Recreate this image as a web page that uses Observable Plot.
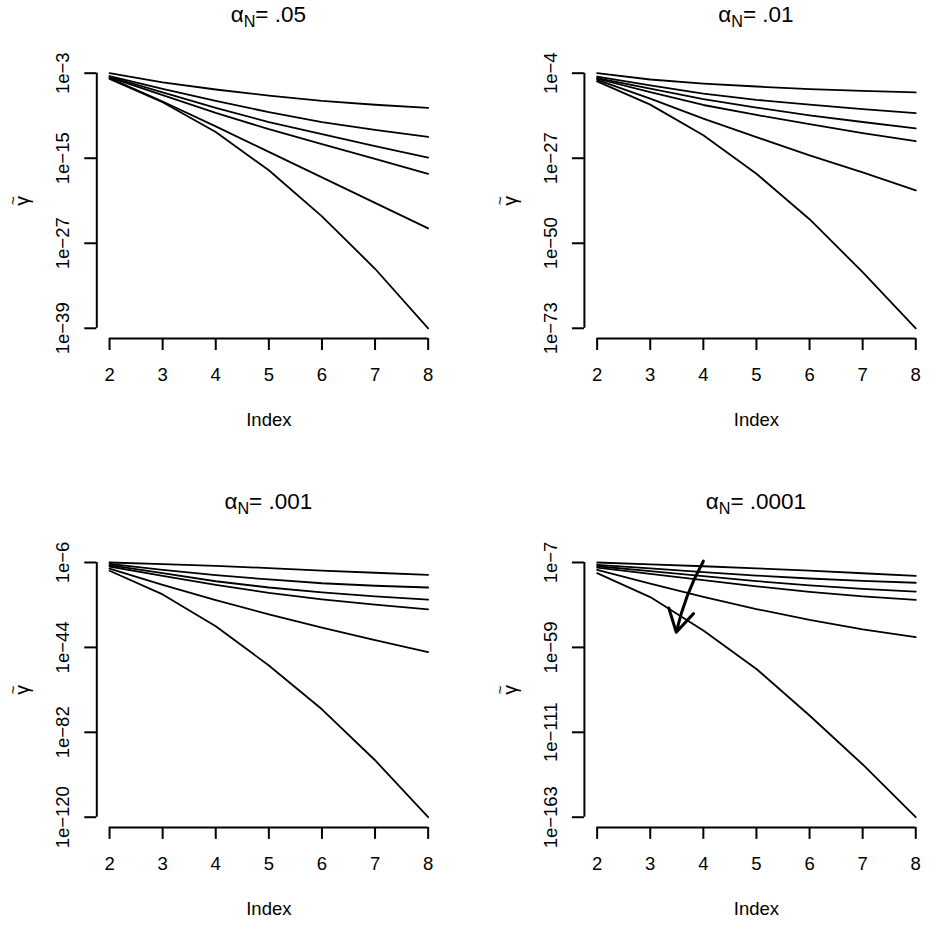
<!DOCTYPE html>
<html><head><meta charset="utf-8">
<script src="https://cdn.jsdelivr.net/npm/d3@7"></script>
<script src="https://cdn.jsdelivr.net/npm/@observablehq/plot@0.6"></script>
<style>
body{margin:0;background:#fff;}
#root{position:relative;width:941px;height:931px;overflow:hidden;font-family:"Liberation Sans",Arial,sans-serif;color:#000;}
.panel{position:absolute;}
.title{position:absolute;text-align:center;font-size:22.5px;line-height:22px;white-space:nowrap;color:#000;}
.title sub{font-size:0.72em;vertical-align:-0.3em;line-height:0;}
</style></head><body><div id="root"></div>
<script>
// x positions (Index)
const index = [2, 3, 4, 5, 6, 7, 8];
// panel titles: alpha_N values
const alphaLabels = [".05", ".01", ".001", ".0001"];
// y tick exponents (log10 of gamma) per panel
const ticks05 = [-3, -15, -27, -39];
const ticks01 = [-4, -27, -50, -73];
const ticks001 = [-6, -44, -82, -120];
const ticks0001 = [-7, -59, -111, -163];
// log10(gamma~) for six curves per panel, at Index 2..8
const gamma05 = [
  [-3.0, -4.3, -5.3, -6.15, -6.9, -7.45, -7.9],
  [-3.4, -5.2, -6.9, -8.5, -9.9, -11.0, -12.0],
  [-3.5, -5.7, -7.9, -9.9, -11.6, -13.3, -14.9],
  [-3.6, -6.1, -8.6, -10.9, -13.0, -15.1, -17.2],
  [-3.7, -7.0, -10.5, -14.1, -17.7, -21.3, -24.9],
  [-3.8, -7.1, -11.3, -16.7, -23.2, -30.6, -39.0]
];
const gamma01 = [
  [-4.0, -5.7, -6.8, -7.6, -8.3, -8.8, -9.2],
  [-4.9, -7.3, -9.5, -11.2, -12.5, -13.7, -14.8],
  [-5.3, -8.2, -11.0, -13.3, -15.4, -17.2, -18.9],
  [-5.5, -9.1, -12.6, -15.3, -17.8, -20.2, -22.4],
  [-5.8, -10.9, -16.3, -21.3, -26.2, -30.8, -35.7],
  [-6.2, -12.5, -20.8, -31.2, -43.5, -57.8, -73.0]
];
const gamma001 = [
  [-6.0, -6.7, -7.5, -8.5, -9.6, -10.6, -11.5],
  [-6.6, -9.3, -11.7, -13.6, -15.3, -16.4, -17.2],
  [-7.2, -10.8, -14.4, -17.2, -19.4, -21.2, -22.6],
  [-7.8, -12.0, -16.0, -19.6, -22.5, -24.9, -27.0],
  [-8.7, -16.0, -22.8, -29.2, -35.2, -40.8, -46.1],
  [-9.7, -20.3, -34.5, -52.1, -71.7, -94.5, -120.0]
];
const gamma0001 = [
  [-7.0, -8.1, -9.3, -10.6, -12.0, -13.6, -15.2],
  [-8.4, -10.6, -12.9, -15.0, -16.8, -18.2, -19.4],
  [-9.3, -12.3, -15.4, -18.4, -21.0, -23.1, -24.8],
  [-10.2, -14.0, -17.8, -21.6, -25.0, -27.8, -29.9],
  [-11.5, -20.0, -28.0, -35.5, -42.2, -48.0, -52.7],
  [-13.5, -28.2, -48.6, -72.2, -100.7, -130.7, -163.0]
];
// annotation arrow in last panel: [Index, log10 gamma]
const arrowFrom = [4.0, -6.2];
const arrowTo = [3.49, -49.7];

const root = document.getElementById("root");
const FS = 18.5;

function makePanel(cfg) {
  const {series, ticks, title, left, top, width, height, mL, mR, mT, mB, titleBaseline, arrow} = cfg;
  const hi = Math.max(...ticks), lo = Math.min(...ticks);
  const ext = (hi - lo) * 0.04;
  const xExt = (index[index.length - 1] - index[0]) * 0.04;
  const xmin = index[0] - xExt, xmax = index[index.length - 1] + xExt;
  const data = series.flatMap((vals, k) => vals.map((v, i) => ({x: index[i], y: Math.pow(10, v), s: k})));
  const tickVals = ticks.map(t => Math.pow(10, t));
  const marks = [
    Plot.lineY(data, {x: "x", y: "y", z: "s", stroke: "#000", strokeWidth: 1.8}),
    Plot.ruleY([Math.pow(10, lo - ext)], {x1: () => index[0], x2: () => index[index.length - 1], stroke: "#000", strokeWidth: 2}),
    Plot.ruleX([xmin], {y1: () => tickVals[0], y2: () => tickVals[tickVals.length - 1], stroke: "#000", strokeWidth: 2}),
    Plot.axisX(index, {tickSize: 12, tickPadding: 17, fontSize: FS, tickFormat: d => String(d), strokeWidth: 2, label: null}),
    Plot.axisY(tickVals, {tickSize: 12, tickFormat: () => "", strokeWidth: 2, label: null}),
    Plot.text(ticks, {y: d => Math.pow(10, d), frameAnchor: "left", text: d => "1e\u2212" + (-d), rotate: -90, dx: -33.6, fontSize: FS, textAnchor: "middle", lineAnchor: "middle"}),
    Plot.text(["\u03B3"], {frameAnchor: "left", dx: -74, rotate: -90, fontSize: FS + 1, textAnchor: "middle", lineAnchor: "middle"}),
    Plot.text(["~"], {frameAnchor: "left", dx: -84, rotate: -90, fontSize: FS - 3, textAnchor: "middle", lineAnchor: "middle"}),
    Plot.text(["Index"], {frameAnchor: "bottom", dy: 82, fontSize: FS, textAnchor: "middle", lineAnchor: "middle"})
  ];
  if (arrow) {
    marks.push(Plot.arrow([arrow], {
      x1: d => d.from[0], y1: d => Math.pow(10, d.from[1]),
      x2: d => d.to[0], y2: d => Math.pow(10, d.to[1]),
      bend: -8, stroke: "#000", strokeWidth: 3, headLength: 16
    }));
  }
  const svg = Plot.plot({
    width, height,
    marginLeft: mL, marginRight: mR, marginTop: mT, marginBottom: mB,
    x: {domain: [xmin, xmax]},
    y: {type: "log", domain: [Math.pow(10, lo - ext), Math.pow(10, hi + ext)]},
    style: {fontFamily: "'Liberation Sans', Arial, sans-serif", fontSize: FS + "px", background: "transparent", color: "#000", overflow: "visible"},
    marks
  });
  const wrap = document.createElement("div");
  wrap.className = "panel";
  wrap.style.left = left + "px";
  wrap.style.top = top + "px";
  wrap.appendChild(svg);
  root.appendChild(wrap);

  const t = document.createElement("div");
  t.className = "title";
  t.innerHTML = "\u03B1<sub>N</sub>= " + title;
  t.style.left = (left + mL) + "px";
  t.style.width = (width - mL - mR) + "px";
  t.style.top = (titleBaseline - 18.6) + "px";
  root.appendChild(t);
}

makePanel({series: gamma05, ticks: ticks05, title: alphaLabels[0], left: 0, top: 0, width: 470, height: 465, mL: 96.3, mR: 29.6, mT: 62.5, mB: 127, titleBaseline: 22.7});
makePanel({series: gamma01, ticks: ticks01, title: alphaLabels[1], left: 470, top: 0, width: 471, height: 465, mL: 113.9, mR: 13, mT: 62.5, mB: 127, titleBaseline: 22.7});
makePanel({series: gamma001, ticks: ticks001, title: alphaLabels[2], left: 0, top: 465, width: 470, height: 466, mL: 96.3, mR: 29.6, mT: 86.8, mB: 104.1, titleBaseline: 509.3});
makePanel({series: gamma0001, ticks: ticks0001, title: alphaLabels[3], left: 470, top: 465, width: 471, height: 466, mL: 113.9, mR: 13, mT: 86.8, mB: 104.1, titleBaseline: 509.3, arrow: {from: arrowFrom, to: arrowTo}});
</script></body></html>
